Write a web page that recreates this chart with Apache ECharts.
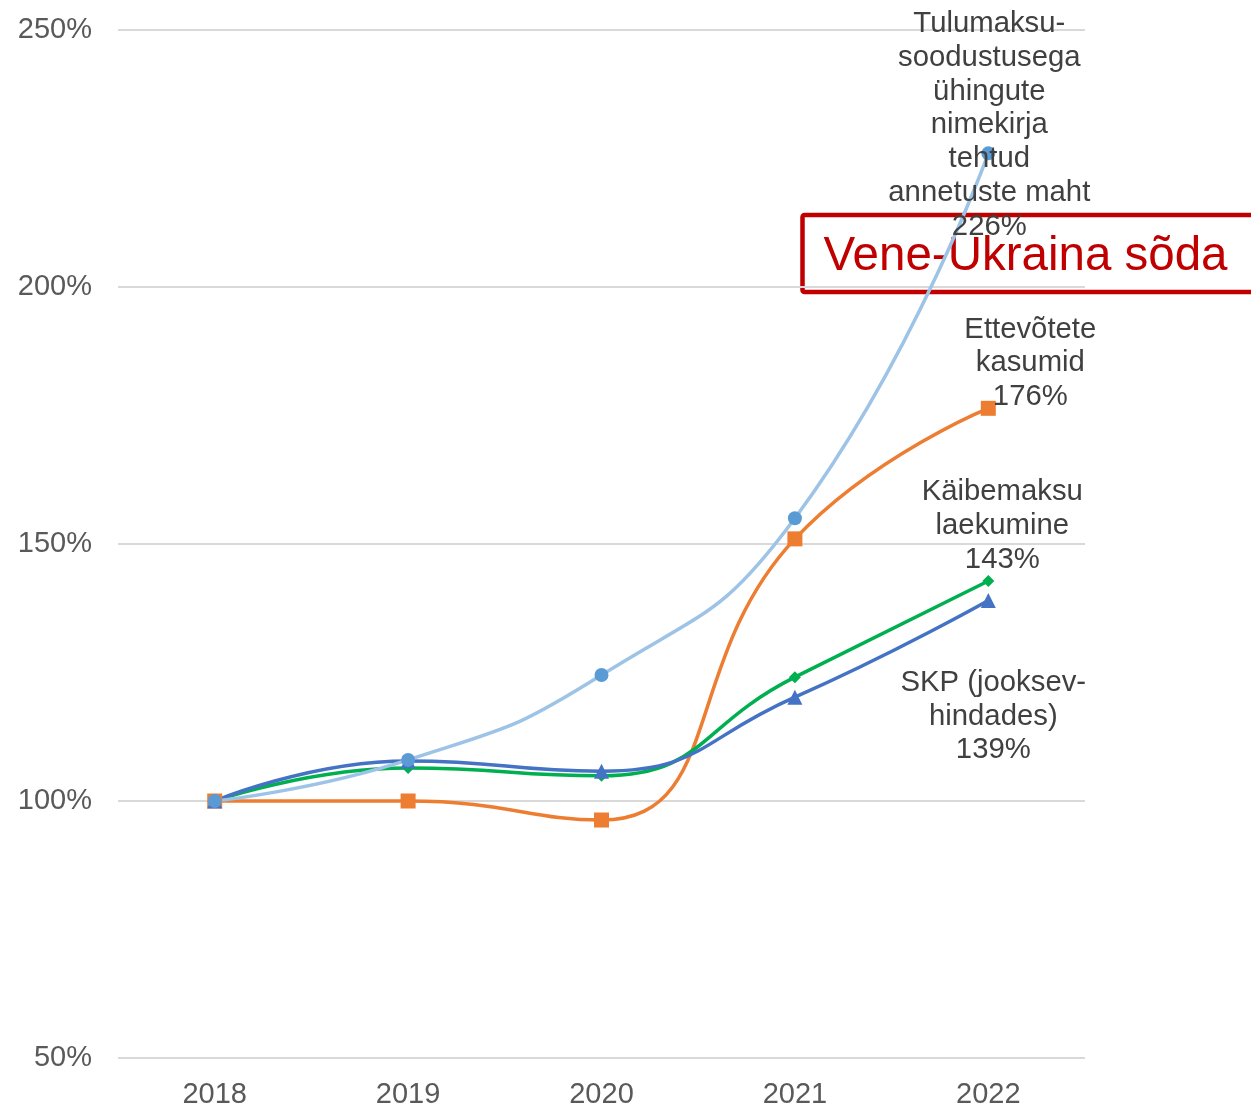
<!DOCTYPE html>
<html>
<head>
<meta charset="utf-8">
<script src="https://cdn.jsdelivr.net/npm/echarts@6/dist/echarts.min.js"></script>
<style>
  html, body { margin: 0; padding: 0; background: #fff; }
  #chart { width: 1251px; height: 1109px; }
</style>
</head>
<body>
<div id="chart"></div>
<script>
// andmed (2018 = 100%)
var years = ['2018', '2019', '2020', '2021', '2022'];
var annetused = [100, 108, 124.5, 155, 226];
var kasumid = [100, 100, 96.3, 151, 176.4];
var kaibemaks = [100, 106.4, 104.9, 124.1, 142.8];
var skp = [100, 107.8, 105.8, 120.2, 139];

var nimed = {
  annetused: 'Tulumaksu-\nsoodustusega\nühingute\nnimekirja\ntehtud\nannetuste maht',
  kasumid: 'Ettevõtete\nkasumid',
  kaibemaks: 'Käibemaksu\nlaekumine',
  skp: 'SKP (jooksev-\nhindades)'
};

var FONT = 'Liberation Sans, Arial, sans-serif';
var chart = echarts.init(document.getElementById('chart'));

// silt ainult viimasele punktile
function endLabel(name, offset) {
  return {
    show: true,
    position: 'inside',
    align: 'center',
    verticalAlign: 'middle',
    offset: offset,
    color: '#404040',
    fontSize: 29.3,
    lineHeight: 33.7,
    fontFamily: FONT,
    formatter: function (p) {
      if (p.dataIndex !== years.length - 1) return '';
      return name + '\n' + Math.round(p.value) + '%';
    }
  };
}

chart.setOption({
  backgroundColor: '#fff',
  animation: false,
  grid: {
    left: 118,
    right: 166,
    top: 30,
    bottom: 50
  },
  xAxis: {
    type: 'category',
    data: years,
    boundaryGap: true,
    axisLine: { show: false },
    axisTick: { show: false },
    axisLabel: {
      color: '#595959',
      fontSize: 29,
      margin: 22,
      fontFamily: FONT
    }
  },
  yAxis: {
    type: 'value',
    min: 50,
    max: 250,
    interval: 50,
    axisLine: { show: false },
    axisTick: { show: false },
    splitLine: { lineStyle: { color: '#d9d9d9', width: 2 } },
    axisLabel: {
      color: '#595959',
      fontSize: 29,
      margin: 26,
      padding: [6, 0, 0, 0],
      formatter: '{value}%',
      fontFamily: FONT
    }
  },
  series: [
    {
      name: 'kasumid',
      type: 'line',
      data: kasumid,
      smooth: 0.5,
      symbol: 'rect',
      symbolSize: 15,
      lineStyle: { color: '#ED7D31', width: 3.5 },
      itemStyle: { color: '#ED7D31' },
      label: endLabel(nimed.kasumid, [42, -45])
    },
    {
      name: 'kaibemaks',
      type: 'line',
      data: kaibemaks,
      smooth: 0.5,
      symbol: 'diamond',
      symbolSize: 12,
      lineStyle: { color: '#00B050', width: 3.5 },
      itemStyle: { color: '#00B050' },
      label: endLabel(nimed.kaibemaks, [14, -55])
    },
    {
      name: 'skp',
      type: 'line',
      data: skp,
      smooth: 0.5,
      symbol: 'triangle',
      symbolSize: 15,
      lineStyle: { color: '#4472C4', width: 3.5 },
      itemStyle: { color: '#4472C4' },
      label: endLabel(nimed.skp, [5, 116])
    },
    {
      name: 'annetused',
      type: 'line',
      data: annetused,
      smooth: 0.5,
      symbol: 'circle',
      symbolSize: 14,
      lineStyle: { color: '#9DC3E6', width: 3.5 },
      itemStyle: { color: '#5B9BD5' },
      label: endLabel(nimed.annetused, [1, -28])
    }
  ],
  // punane märkus
  graphic: [
    {
      type: 'rect',
      x: 802.5,
      y: 215,
      shape: { x: 0, y: 0, width: 470, height: 77, r: 2 },
      style: { fill: 'none', stroke: '#C00000', lineWidth: 4.5 }
    },
    {
      type: 'text',
      x: 1025.5,
      y: 257,
      style: {
        text: 'Vene-Ukraina sõda',
        fill: '#C00000',
        fontSize: 47.5,
        fontFamily: FONT,
        textAlign: 'center',
        textVerticalAlign: 'middle'
      }
    }
  ]
});
</script>
</body>
</html>
